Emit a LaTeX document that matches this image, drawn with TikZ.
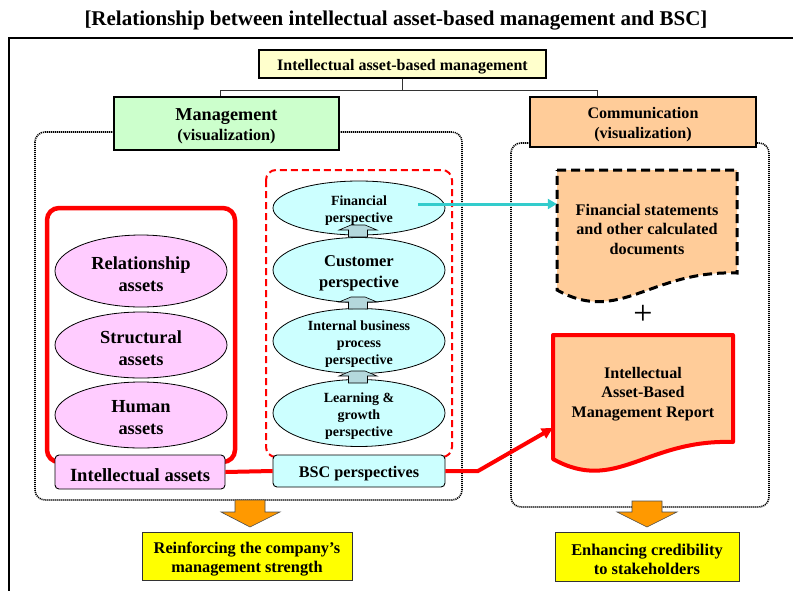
\documentclass[tikz,border=0pt]{standalone}
\usepackage{fontspec}
\setmainfont{Liberation Serif}
\usetikzlibrary{arrows.meta,shapes.geometric}

\definecolor{paleyellow}{HTML}{FFFFCC}
\definecolor{palegreen}{HTML}{CCFFCC}
\definecolor{peach}{HTML}{FFCC99}
\definecolor{palepink}{HTML}{FFCCFF}
\definecolor{palecyan}{HTML}{CCFFFF}
\definecolor{brightyellow}{HTML}{FFFF00}
\definecolor{blockorange}{HTML}{FF9900}
\definecolor{turq}{HTML}{33CCCC}
\definecolor{stepblue}{HTML}{B4D8DC}
\definecolor{pureRed}{HTML}{FF0000}

\newcommand{\fs}[2]{\fontsize{#1}{#2}\selectfont}

\tikzset{
  fnt/.style 2 args={font=\bfseries\fontsize{#1}{#2}\selectfont},
  lab/.style={align=center, inner sep=0pt, yshift=-3pt},
  plainbox/.style={draw, line width=1.3pt, inner sep=0pt},
  tagbox/.style={draw, line width=0.9pt, rounded corners=4pt, inner sep=0pt},
  ell/.style={ellipse, draw, line width=0.8pt, inner sep=0pt, minimum width=172},
  dotframe/.style={line width=1.6pt, dash pattern=on 1.1pt off 0.9pt, rounded corners=10pt},
  redlink/.style={pureRed, line width=4pt},
  blockdown/.style={fill=blockorange, draw=black!70, line width=0.6pt},
  stepup/.pic={
    \filldraw[fill=stepblue, draw=black, line width=0.6pt]
      (-9.5,0) -- (-9.5,-7) -- (-19,-7) -- (-7,-12) -- (7,-12) -- (19,-7) -- (9.5,-7) -- (9.5,0) -- cycle;
  }
}

\begin{document}
\begin{tikzpicture}[x=1pt, y=-1pt, font=\bfseries, line join=miter]
\useasboundingbox (0,0) rectangle (793,590);

% heading
\node[fnt={21}{24}] (title) at (396,20.5) {[Relationship between intellectual asset-based management and BSC]};

% outer frame (left and top edges)
\draw[line width=2pt] (9,592) -- (9,38) -- (795,38);

% dotted group frames
\draw[dotframe] (35,132) rectangle (462,500);
\draw[dotframe] (511,143) rectangle (769,507);

% intellectual assets group
\draw[pureRed, line width=4.5pt, rounded corners=12pt] (47,208) rectangle (235,462);
\node[ell, fill=palepink, minimum height=72, label={[lab, fnt={18.4}{22}]center:{Relationship\\assets}}] (rel) at (141,271) {};
\node[ell, fill=palepink, minimum height=66, label={[lab, fnt={18.4}{22}]center:{Structural\\assets}}] (str) at (141,345) {};
\node[ell, fill=palepink, minimum height=66, label={[lab, fnt={18.4}{22}]center:{Human\\assets}}] (hum) at (141,415) {};

% BSC group
\draw[pureRed, line width=2pt, dash pattern=on 7pt off 4pt, rounded corners=10pt] (266,170) rectangle (452,457);
\node[ell, fill=palecyan, minimum height=54, label={[lab, fnt={14}{17}]center:{Financial\\perspective}}] (fin) at (359,208) {};
\node[ell, fill=palecyan, minimum height=65, label={[lab, fnt={16.5}{21}]center:{Customer\\perspective}}] (cus) at (359,270) {};
\node[ell, fill=palecyan, minimum height=65, label={[lab, fnt={14}{17}]center:{Internal business\\process\\perspective}}] (ibp) at (359,341) {};
\node[ell, fill=palecyan, minimum height=67, label={[lab, fnt={14}{17}]center:{Learning \&\\growth\\perspective}}] (lgp) at (359,413) {};

\pic at (358,237) {stepup};
\pic at (358,309) {stepup};
\pic at (358,383) {stepup};

% top of the hierarchy
\node[plainbox, fill=paleyellow, minimum width=287, minimum height=28,
  label={[lab, fnt={16}{19}]center:{Intellectual asset-based management}}] (iam) at (402.5,64) {};
\node[plainbox, fill=palegreen, minimum width=225, minimum height=53,
  label={[lab, fnt={18.2}{20}]center:{Management\\\fs{16.2}{20}(visualization)}}] (mgmt) at (226.5,123.5) {};
\node[plainbox, fill=peach, minimum width=226, minimum height=50,
  label={[lab, fnt={16.1}{20}]center:{Communication\\(visualization)}}] (comm) at (643,122) {};

\coordinate (mgx) at (220,0);
\coordinate (cmx) at (597,0);
\draw[line width=0.9pt, black!80] (iam.south) -- ++(0,12) coordinate (junc);
\draw[line width=0.9pt, black!80] (junc) -| (mgmt.north -| mgx);
\draw[line width=0.9pt, black!80] (junc) -| (comm.north -| cmx);

% tags under the groups
\node[tagbox, fill=palepink, minimum width=170, minimum height=34,
  label={[lab, fnt={18.6}{20}]center:{Intellectual assets}}] (ia) at (140,472) {};
\node[tagbox, fill=palecyan, minimum width=172, minimum height=32,
  label={[lab, fnt={16.2}{19}]center:{BSC perspectives}}] (bsc) at (359,471) {};

% documents
\draw[dash pattern=on 9pt off 5pt, line width=3pt, fill=peach]
  (557,170) -- (737,170) -- (737,273)
  .. controls (650,270) and (620,325) .. (557,290) -- cycle;
\node[align=center, minimum width=180, minimum height=112, inner sep=0pt, fnt={16.2}{19.5}] (fsd) at (647,229)
  {Financial statements\\and other calculated\\documents};

\node[font=\fontsize{34}{34}\selectfont] (plus) at (643,315) {+};

\draw[pureRed, line width=4pt, fill=peach, line join=round]
  (553,335) -- (733,335) -- (733,442)
  .. controls (646,439) and (616,494) .. (553,459) -- cycle;
\node[align=center, minimum width=180, minimum height=112, inner sep=0pt, fnt={16.1}{19.5}] (rep) at (643,394)
  {Intellectual\\Asset-Based\\Management Report};

% connectors
\coordinate (finsrc) at (418,204);
\draw[turq, line width=3pt, -{Triangle[length=9pt, width=10pt]}] (finsrc) -- (finsrc -| fsd.west);
\draw[redlink] (ia.east) -- (bsc.west);
\coordinate (bend) at (478,471);
\draw[redlink, -{Triangle[length=11pt, width=11pt]}] (bsc.east) -- (bend) -- ([yshift=-34pt]rep.west);

% outcome arrows
\draw[blockdown] (235,500) -- (265,500) -- (265,512) -- (280,512) -- (250,527) -- (221,512) -- (235,512) -- cycle;
\draw[blockdown] (632,501) -- (662,501) -- (662,512) -- (677,512) -- (647,527) -- (617,512) -- (632,512) -- cycle;

% outcomes
\node[plainbox, line width=1pt, draw=black!80, fill=brightyellow, minimum width=210, minimum height=48,
  label={[lab, fnt={16.3}{19}]center:{Reinforcing the company’s\\management strength}}] (out1) at (247,556) {};
\node[plainbox, line width=1pt, draw=black!80, fill=brightyellow, minimum width=184, minimum height=49,
  label={[lab, fnt={16.4}{19}]center:{Enhancing credibility\\to stakeholders}}] (out2) at (647,556.5) {};

\end{tikzpicture}
\end{document}
